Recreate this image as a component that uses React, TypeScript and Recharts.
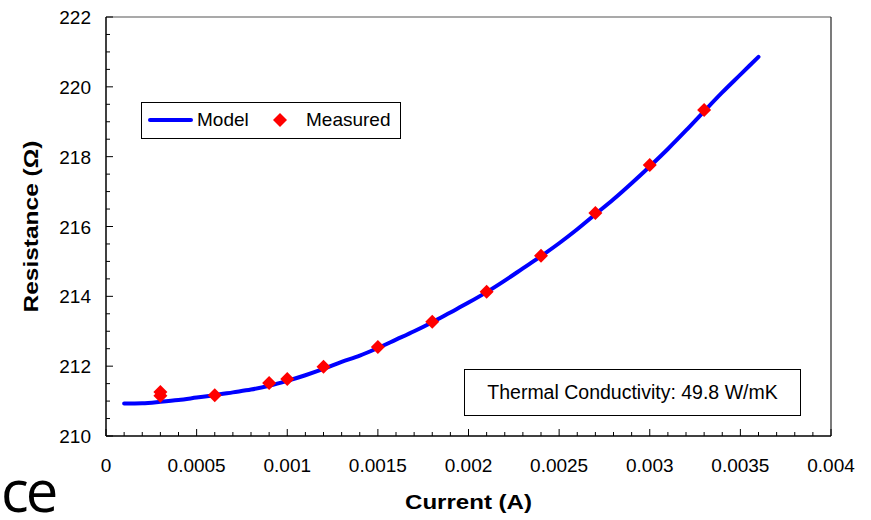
import React from 'react';
import { ComposedChart, Line, Scatter, XAxis, YAxis, ReferenceLine, Legend } from 'recharts';

// model curve (A, ohm)
const modelCurrent = [
  0.0001, 0.0002, 0.0003, 0.0004, 0.0005, 0.0006, 0.0007, 0.0008, 0.0009, 0.001,
  0.0011, 0.0012, 0.0013, 0.0014, 0.0015, 0.0016, 0.0017, 0.0018, 0.0019, 0.002,
  0.0021, 0.0022, 0.0023, 0.0024, 0.0025, 0.0026, 0.0027, 0.0028, 0.0029, 0.003,
  0.0031, 0.0032, 0.0033, 0.0034, 0.0035, 0.0036,
];
const modelResistance = [
  210.93, 210.94, 210.98, 211.03, 211.1, 211.17, 211.25, 211.33, 211.44, 211.58,
  211.74, 211.92, 212.12, 212.3, 212.52, 212.76, 213.0, 213.26, 213.54, 213.82,
  214.12, 214.45, 214.8, 215.15, 215.52, 215.92, 216.35, 216.78, 217.24, 217.72,
  218.22, 218.75, 219.3, 219.84, 220.35, 220.86,
];

// measured points
const measuredCurrent = [0.0003, 0.0003, 0.0006, 0.0009, 0.001, 0.0012, 0.0015, 0.0018, 0.0021, 0.0024, 0.0027, 0.003, 0.0033];
const measuredResistance = [211.26, 211.15, 211.17, 211.52, 211.63, 211.98, 212.55, 213.27, 214.13, 215.16, 216.39, 217.76, 219.34];

const xTickLabels = ['0', '0.0005', '0.001', '0.0015', '0.002', '0.0025', '0.003', '0.0035', '0.004'];
const yTickLabels = ['210', '212', '214', '216', '218', '220', '222'];

const modelData = modelCurrent.map((i, k) => ({ i, r: modelResistance[k] }));
const measuredData = measuredCurrent.map((i, k) => ({ i, r: measuredResistance[k] }));

const xMajor = xTickLabels.map(Number);
const yMajor = yTickLabels.map(Number);
const xTicks = Array.from({ length: 41 }, (_, k) => +(k * 0.0001).toFixed(4));
const yTicks = Array.from({ length: 25 }, (_, k) => 210 + k * 0.5);

const FONT = '"Liberation Sans", Arial, sans-serif';

const findLabel = (v: number, majors: number[], labels: string[]) => {
  const idx = majors.findIndex((m) => Math.abs(m - v) < 1e-9);
  return idx >= 0 ? labels[idx] : null;
};

const XTick = (props: any) => {
  const { x, y, payload } = props;
  const label = findLabel(payload.value, xMajor, xTickLabels);
  return (
    <g>
      <line x1={x} x2={x} y1={y} y2={y - (label ? 7 : 4)} stroke="#000" strokeWidth={1} />
      {label && (
        <text x={x} y={y + 36} textAnchor="middle" fontSize={19} fontFamily={FONT} fill="#000">
          {label}
        </text>
      )}
    </g>
  );
};

const YTick = (props: any) => {
  const { x, y, payload } = props;
  const label = findLabel(payload.value, yMajor, yTickLabels);
  return (
    <g>
      <line x1={x} x2={x + (label ? 7 : 4)} y1={y} y2={y} stroke="#000" strokeWidth={1} />
      {label && (
        <text x={x - 15} y={y + 7} textAnchor="end" fontSize={19} fontFamily={FONT} fill="#000">
          {label}
        </text>
      )}
    </g>
  );
};

const Diamond = (props: any) => {
  const { cx, cy } = props;
  const h = 7;
  return <polygon points={`${cx},${cy - h} ${cx + h},${cy} ${cx},${cy + h} ${cx - h},${cy}`} fill="#ff0000" />;
};

const LegendBox = () => (
  <div
    style={{
      width: 260,
      height: 37,
      boxSizing: 'border-box',
      border: '1px solid #000',
      background: '#fff',
      position: 'relative',
      fontFamily: FONT,
      fontSize: 19,
      color: '#000',
    }}
  >
    <div style={{ position: 'absolute', left: 6, top: 15, width: 45, height: 4, borderRadius: 2, background: '#0000ff' }} />
    <span style={{ position: 'absolute', left: 55, top: 6 }}>Model</span>
    <svg style={{ position: 'absolute', left: 130, top: 9 }} width={16} height={16}>
      <polygon points="8,1 15,8 8,15 1,8" fill="#ff0000" />
    </svg>
    <span style={{ position: 'absolute', left: 164, top: 6 }}>Measured</span>
  </div>
);

export default function App() {
  return (
    <div style={{ position: 'absolute', left: 0, top: 0, width: 871, height: 520, background: '#fff', overflow: 'hidden' }}>
      <ComposedChart
        width={871}
        height={520}
        margin={{ top: 17, right: 40, bottom: 0, left: 0 }}
        style={{ fontFamily: FONT }}
      >
        <XAxis
          type="number"
          dataKey="i"
          domain={[0, 0.004]}
          ticks={xTicks}
          interval={0}
          height={84}
          tickSize={0}
          tickMargin={0}
          tickLine={false}
          axisLine={{ stroke: '#000', strokeWidth: 1.5 }}
          tick={(p: any) => <XTick {...p} />}
          allowDataOverflow
          label={{
            content: (p: any) => {
              const vb = p.viewBox;
              return (
                <text
                  x={vb.x + vb.width / 2}
                  y={vb.y + 73}
                  textAnchor="middle"
                  fontSize={20}
                  fontWeight="bold"
                  fontFamily={FONT}
                  fill="#000"
                  textLength={127}
                  lengthAdjust="spacingAndGlyphs"
                >
                  Current (A)
                </text>
              );
            },
          }}
        />
        <YAxis
          type="number"
          domain={[210, 222]}
          ticks={yTicks}
          interval={0}
          width={106}
          tickSize={0}
          tickMargin={0}
          tickLine={false}
          axisLine={{ stroke: '#000', strokeWidth: 1.5 }}
          tick={(p: any) => <YTick {...p} />}
          allowDataOverflow
          label={{
            content: (p: any) => {
              const vb = p.viewBox;
              const cx = vb.x + 38;
              const cy = vb.y + vb.height / 2;
              return (
                <text
                  x={cx}
                  y={cy}
                  transform={`rotate(-90, ${cx}, ${cy})`}
                  textAnchor="middle"
                  fontSize={20}
                  fontWeight="bold"
                  fontFamily={FONT}
                  fill="#000"
                  textLength={172}
                  lengthAdjust="spacingAndGlyphs"
                >
                  Resistance (Ω)
                </text>
              );
            },
          }}
        />
        <ReferenceLine y={222} stroke="#555" strokeWidth={1.2} />
        <ReferenceLine x={0.004} stroke="#222" strokeWidth={1.2} />
        <Legend
          layout="vertical"
          align="center"
          verticalAlign="middle"
          wrapperStyle={{ left: 141, top: 102, width: 260 }}
          content={() => <LegendBox />}
        />
        <Line
          name="Model"
          data={modelData}
          dataKey="r"
          type="monotone"
          stroke="#0000ff"
          strokeWidth={4}
          strokeLinecap="round"
          dot={false}
          activeDot={false}
          isAnimationActive={false}
        />
        <Scatter name="Measured" data={measuredData} dataKey="r" fill="#ff0000" shape={Diamond} isAnimationActive={false} />
      </ComposedChart>
      <div
        style={{
          position: 'absolute',
          left: 464,
          top: 369,
          width: 337,
          height: 47,
          boxSizing: 'border-box',
          border: '1px solid #000',
          background: '#fff',
          display: 'flex',
          alignItems: 'center',
          justifyContent: 'center',
          fontFamily: FONT,
          fontSize: 19.5,
          color: '#000',
        }}
      >
        Thermal Conductivity: 49.8 W/mK
      </div>
      <div
        style={{
          position: 'absolute',
          left: 1,
          top: 461,
          fontFamily: '"Open Sans", sans-serif',
          fontSize: 58,
          lineHeight: 1,
          letterSpacing: -3,
          color: '#000',
        }}
      >
        ce
      </div>
    </div>
  );
}
